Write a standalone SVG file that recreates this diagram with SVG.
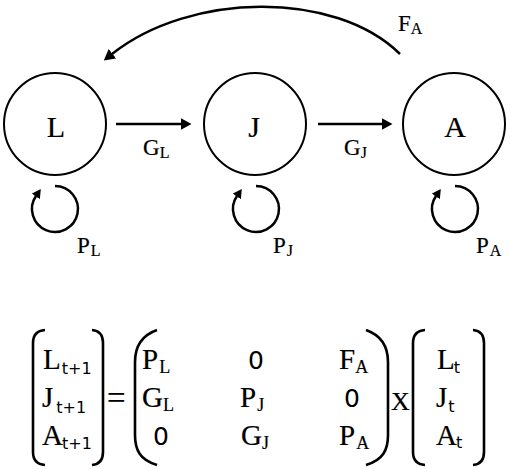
<svg xmlns="http://www.w3.org/2000/svg" width="510" height="469" viewBox="0 0 510 469">
<style>
.node{fill:#fff;stroke:#000;stroke-width:2}
.ser{font-family:"Liberation Serif","Times New Roman",serif;fill:#000;stroke:#000;stroke-width:0.2}
.san{font-family:"DejaVu Sans",sans-serif;fill:#000;stroke:none}
.big{font-size:30px}
.mat{font-size:29px}
.lbl{font-size:23px}
.edge{fill:none;stroke:#000;stroke-width:2.5}
.br{fill:none;stroke:#000;stroke-width:2.6}
</style>
<defs>
<marker id="ah" markerUnits="userSpaceOnUse" markerWidth="11" markerHeight="12" refX="0.5" refY="6" orient="auto">
<path d="M0,0 L11,6 L0,12 z" fill="#000"/>
</marker>
<marker id="ahs" markerUnits="userSpaceOnUse" markerWidth="9" markerHeight="10" refX="0.5" refY="5" orient="auto">
<path d="M0,0 L9,5 L0,10 z" fill="#000"/>
</marker>
</defs>
<g id="node-L">
<circle class="node" cx="55" cy="124" r="51"/>
<text class="ser big" x="56" y="137" text-anchor="middle">L</text>
</g>
<g id="node-J">
<circle class="node" cx="255" cy="124" r="51"/>
<text class="ser big" x="254" y="137" text-anchor="middle">J</text>
</g>
<g id="node-A">
<circle class="node" cx="454" cy="124" r="51"/>
<text class="ser big" x="455" y="137" text-anchor="middle">A</text>
</g>
<g id="connectors">
<line class="edge" x1="116" y1="124" x2="181" y2="124" marker-end="url(#ah)"/>
<line class="edge" x1="318" y1="124" x2="382" y2="124" marker-end="url(#ah)"/>
<path class="edge" d="M400,54 C335,-10 190,-8 112,54" marker-end="url(#ah)"/>
<path class="edge" d="M55,186 A23,23 0 1 1 36,196" marker-end="url(#ahs)"/>
<path class="edge" d="M256,186 A23,23 0 1 1 237,196" marker-end="url(#ahs)"/>
<path class="edge" d="M455,186 A23,23 0 1 1 436,196" marker-end="url(#ahs)"/>
<text class="ser lbl" x="143" y="155">G<tspan font-size="16" dy="3" dx="0">L</tspan></text>
<text class="ser lbl" x="344" y="155">G<tspan font-size="16" dy="3" dx="0">J</tspan></text>
<text class="ser lbl" x="398" y="31">F<tspan font-size="16" dy="3" dx="0">A</tspan></text>
<text class="ser lbl" x="77" y="253">P<tspan font-size="16" dy="3" dx="1">L</tspan></text>
<text class="ser lbl" x="273" y="253">P<tspan font-size="16" dy="3" dx="1">J</tspan></text>
<text class="ser lbl" x="476" y="253">P<tspan font-size="16" dy="3" dx="1">A</tspan></text>
</g>
<g id="equation">
<path class="br" d="M45,330 Q33,331 33,343 L33,452 Q33,464 45,465"/>
<path class="br" d="M92,330 Q103,331 103,343 L103,452 Q103,464 92,465"/>
<path class="br" d="M157,330 C140,336 135,348 135,362 L135,435 C135,450 140,460 157,465"/>
<path class="br" d="M366,330 C383,336 388,348 388,362 L388,435 C388,450 383,460 366,465"/>
<path class="br" d="M425,330 Q413,331 413,343 L413,452 Q413,464 425,465"/>
<path class="br" d="M473,330 Q484,331 484,343 L484,452 Q484,464 473,465"/>
<text class="ser mat" x="43" y="369">L<tspan class="san" font-size="16" dx="1" dy="5">t+1</tspan></text>
<text class="ser mat" x="42" y="407">J<tspan class="san" font-size="16" dx="3" dy="6">t+1</tspan></text>
<text class="ser mat" x="42" y="445">A<tspan class="san" font-size="16" dx="-1" dy="4">t+1</tspan></text>
<text class="ser" font-size="33" x="107" y="409">=</text>
<text class="ser mat" x="142" y="369">P<tspan font-size="18" dx="1" dy="4">L</tspan></text>
<text class="san" font-size="25" x="256" y="369" text-anchor="middle">0</text>
<text class="ser mat" x="339" y="369">F<tspan font-size="18" dx="0" dy="4">A</tspan></text>
<text class="ser mat" x="142" y="407">G<tspan font-size="18" dx="0" dy="4">L</tspan></text>
<text class="ser mat" x="240" y="407">P<tspan font-size="18" dx="1" dy="4">J</tspan></text>
<text class="san" font-size="25" x="352" y="407" text-anchor="middle">0</text>
<text class="san" font-size="25" x="161" y="445" text-anchor="middle">0</text>
<text class="ser mat" x="241" y="445">G<tspan font-size="18" dx="0" dy="4">J</tspan></text>
<text class="ser mat" x="339" y="445">P<tspan font-size="18" dx="1" dy="4">A</tspan></text>
<text class="ser" font-size="26" x="391" y="410">X</text>
<text class="ser mat" x="437" y="369">L<tspan class="san" font-size="16" dx="-1" dy="4">t</tspan></text>
<text class="ser mat" x="436" y="407">J<tspan class="san" font-size="16" dx="1" dy="5">t</tspan></text>
<text class="ser mat" x="436" y="445">A<tspan class="san" font-size="16" dx="-1" dy="3">t</tspan></text>
</g>
</svg>
